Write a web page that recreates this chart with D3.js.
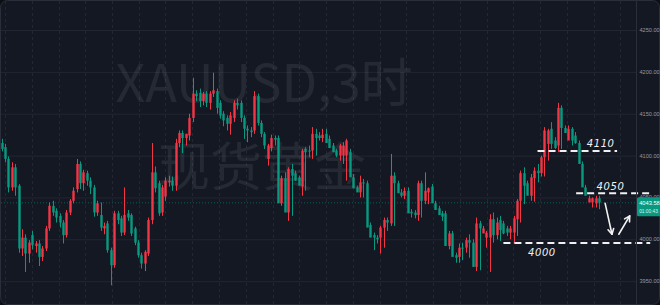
<!DOCTYPE html>
<html>
<head>
<meta charset="utf-8">
<script src="https://cdn.jsdelivr.net/npm/d3@7"></script>
<style>
  html, body { margin: 0; padding: 0; background: #0d0f15; }
  svg { display: block; }
</style>
</head>
<body>
<svg width="660" height="305"></svg>
<script>
// свечи XAUUSD, 3ч
const opens = [4115,4110,4096,4062,4086,4064,3989,4002,3983,4005,3992,3995,3979,3989,4013,4040,4034,4028,4020,4005,
  4032,4046,4060,4090,4067,4079,4070,4062,4032,4029,4013,4019,3987,3969,4031,4025,4008,4031,4029,4013,
  3996,3981,3971,3983,4023,4080,4067,4032,4051,4068,4070,4064,4115,4127,4121,4124,4145,4174,4175,4165,
  4174,4163,4174,4177,4163,4150,4145,4138,4145,4163,4163,4145,4132,4130,4130,4171,4139,4126,4096,4109,
  4121,4121,4043,4073,4032,4084,4079,4074,4063,4108,4106,4106,4126,4124,4121,4126,4120,4112,4106,4100,
  4100,4100,4104,4074,4062,4056,4068,4067,4017,4005,4002,4002,4014,4023,4019,4076,4067,4056,4052,4058,
  4033,4032,4029,4067,4046,4056,4063,4043,4037,4031,4031,3992,4007,3981,3979,3990,3990,3999,3996,3967,
  4019,4007,4002,4002,4024,4005,4023,4019,4013,4008,4008,4024,4046,4079,4067,4052,4073,4082,4079,4098,
  4114,4132,4118,4112,4157,4133,4118,4132,4124,4115,4090,4062,4044,4044,4043,4049];
const highs = [4120,4114,4099,4092,4090,4066,4012,4006,3999,4010,3998,3999,3992,4016,4044,4046,4037,4031,4023,4035,
  4048,4062,4096,4093,4083,4082,4074,4065,4046,4044,4020,4022,3990,4034,4034,4028,4062,4035,4031,4015,
  3999,3984,3987,4026,4115,4087,4070,4065,4074,4076,4075,4120,4130,4130,4126,4150,4193,4178,4180,4176,
  4177,4177,4199,4180,4166,4153,4148,4152,4166,4168,4166,4148,4136,4134,4177,4174,4142,4128,4114,4125,
  4124,4124,4076,4080,4086,4090,4082,4076,4108,4110,4112,4134,4132,4128,4132,4132,4124,4115,4108,4114,
  4116,4120,4108,4078,4064,4076,4072,4070,4020,4008,4005,4016,4026,4026,4102,4080,4070,4060,4062,4062,
  4036,4035,4070,4070,4080,4062,4066,4046,4040,4034,4034,4010,4010,3984,3995,3996,4002,4006,4000,4026,
  4022,4016,4010,4030,4032,4026,4028,4022,4016,4016,4028,4048,4082,4086,4070,4078,4086,4090,4100,4134,
  4132,4140,4122,4163,4160,4136,4136,4134,4128,4118,4093,4065,4052,4050,4052,4052];
const lows = [4105,4092,4056,4058,4052,3984,3980,3961,3972,3988,3984,3968,3974,3986,4010,4028,4020,4014,3995,4002,
  4029,4043,4056,4060,4058,4064,4054,4027,4028,4010,4006,3984,3945,3966,4018,4004,4005,4022,4004,3993,
  3978,3965,3962,3980,4018,4056,4028,4028,4046,4063,4058,4058,4110,4103,4112,4118,4140,4165,4158,4160,
  4158,4155,4170,4150,4144,4135,4130,4125,4140,4155,4140,4120,4116,4122,4126,4136,4122,4108,4088,4105,
  4112,4112,4040,4038,4022,4028,4070,4065,4052,4058,4098,4096,4100,4118,4116,4116,4112,4105,4098,4094,
  4090,4070,4096,4070,4058,4050,4050,4060,4010,3987,3995,3983,3990,4010,4016,4016,4062,4050,4048,4048,
  4026,4025,4022,4026,4042,4042,4050,4038,4030,4022,4020,3988,3985,3972,3972,3975,3984,3978,3994,3962,
  3963,4008,3990,3961,3996,4000,3998,4006,4004,4000,3995,4004,4020,4042,4060,4046,4045,4068,4075,4075,
  4094,4108,4108,4104,4108,4128,4120,4112,4114,4110,4088,4058,4048,4038,4038,4036,4040];
const closes = [4108,4096,4062,4086,4062,3989,4002,3983,3996,3993,3995,3979,3989,4013,4040,4032,4026,4020,4005,4032,
  4046,4058,4090,4067,4080,4070,4062,4032,4043,4014,4016,3987,3969,4031,4023,4008,4029,4026,4007,3996,
  3981,3971,3985,4023,4080,4061,4031,4062,4070,4070,4064,4115,4127,4121,4126,4145,4174,4171,4165,4174,
  4163,4174,4178,4157,4148,4142,4138,4148,4163,4160,4145,4132,4130,4128,4171,4139,4126,4112,4112,4121,
  4119,4043,4073,4032,4084,4076,4070,4064,4106,4104,4105,4126,4121,4121,4125,4115,4109,4104,4100,4112,
  4112,4118,4074,4061,4056,4068,4067,4014,4002,4002,4000,4014,4023,4020,4076,4067,4055,4052,4058,4031,
  4031,4029,4067,4046,4058,4061,4043,4035,4029,4027,3992,4007,3979,3978,3990,3989,3999,3996,3967,4019,
  4013,4013,4008,4024,4005,4020,4011,4007,4008,4013,4025,4046,4079,4064,4052,4074,4082,4079,4098,4130,
  4130,4114,4109,4157,4133,4127,4132,4118,4115,4090,4062,4052,4049,4049,4049,4044];

// шкала цен справа
const priceTicks = [4250, 4200, 4150, 4100, 4050, 4000, 3950];
const lastPrice = 4043.58;
const countdown = "01:00:43";

// разметка от руки: уровни и стрелки
const levelPrices = [4105.5, 4055, 3995.5];
const levelLabels = ["4110", "4050", "4000"];
const levelFrom = [157, 168.3, 147];
const levelTo = [180.3, 190.5, 190];
const labelAt = [171.4, 174.3, 154.2];
const labelShift = [-4, -3, 13];
// стрелки: [индекс0, цена0, индекс1, цена1]
const arrowsIdx = [[176.8, 4043, 178.8, 4006], [180.8, 4006, 184, 4028]];

const svg = d3.select("svg");
const W = 660, H = 305;
const plotRight = 636;

const n = closes.length;
const x = d3.scaleLinear().domain([0, n - 1]).range([1.5, 599]);
const y = d3.scaleLinear().domain([4000, 4250]).range([239.3, 30]);

const UP = "#f23645", DOWN = "#089981";

// фон с закруглёнными углами
svg.append("rect")
  .attr("x", 0.5).attr("y", 0.5).attr("width", W - 1).attr("height", H - 1)
  .attr("rx", 7).attr("fill", "#141823").attr("stroke", "#2a2e3a");

svg.append("clipPath").attr("id", "plot")
  .append("rect").attr("x", 1).attr("y", 1).attr("width", plotRight - 1).attr("height", H - 2);

// горизонтальная сетка
svg.append("g").selectAll("line").data(priceTicks).join("line")
  .attr("x1", 1).attr("x2", plotRight)
  .attr("y1", d => y(d) + 0.5).attr("y2", d => y(d) + 0.5)
  .attr("stroke", "#222632").attr("stroke-width", 1);

// вертикальная сетка пунктиром (раз в сутки)
const gx = d3.scaleLinear().domain([0, 22]).range([5, 593.5]);
svg.append("g").selectAll("line").data(d3.range(0, 24)).join("line")
  .attr("x1", d => Math.round(gx(d)) + 0.5).attr("x2", d => Math.round(gx(d)) + 0.5)
  .attr("y1", 1).attr("y2", H - 1)
  .attr("stroke", "#232735").attr("stroke-dasharray", "3,3")
  .style("display", d => gx(d) > plotRight ? "none" : null);

// водяной знак
const wm = svg.append("g").attr("fill", "#ffffff").attr("fill-opacity", 0.075)
  .attr("font-family", "'Noto Sans CJK SC', 'Noto Sans', sans-serif")
  .attr("text-anchor", "middle");
wm.append("text").attr("x", 264).attr("y", 102).attr("font-size", 52).text("XAUUSD,3时");
wm.append("text").attr("x", 262).attr("y", 186).attr("font-size", 52).text("现货黄金");

// линия текущей цены
svg.append("line")
  .attr("x1", 1).attr("x2", plotRight)
  .attr("y1", y(lastPrice)).attr("y2", y(lastPrice))
  .attr("stroke", DOWN).attr("stroke-opacity", 0.55).attr("stroke-dasharray", "1,2");

// свечи
const idx = d3.range(n);
const candles = svg.append("g").attr("clip-path", "url(#plot)");
const colorOf = i => closes[i] >= opens[i] ? UP : DOWN;

candles.selectAll("line.wick").data(idx).join("line")
  .attr("class", "wick")
  .attr("x1", i => Math.round(x(i)) + 0.5).attr("x2", i => Math.round(x(i)) + 0.5)
  .attr("y1", i => y(highs[i])).attr("y2", i => y(lows[i]))
  .attr("stroke", colorOf).attr("stroke-width", 1);

candles.selectAll("rect.body").data(idx).join("rect")
  .attr("class", "body")
  .attr("x", i => Math.round(x(i)) - 0.7)
  .attr("width", 2.4)
  .attr("y", i => y(Math.max(opens[i], closes[i])))
  .attr("height", i => Math.max(1, Math.abs(y(opens[i]) - y(closes[i]))))
  .attr("fill", colorOf);

// уровни
const lv = svg.append("g");
lv.selectAll("line").data(levelPrices).join("line")
  .attr("x1", (d, i) => x(levelFrom[i])).attr("x2", (d, i) => x(levelTo[i]))
  .attr("y1", d => y(d)).attr("y2", d => y(d))
  .attr("stroke", "#f0f0f0").attr("stroke-width", 2).attr("stroke-dasharray", "7,4");
lv.selectAll("text").data(levelLabels).join("text")
  .attr("x", (d, i) => x(labelAt[i]))
  .attr("y", (d, i) => y(levelPrices[i]) + labelShift[i])
  .attr("fill", "#f2f2f2").attr("font-size", 10).attr("font-style", "italic")
  .attr("letter-spacing", 0.6)
  .attr("font-family", "'DejaVu Sans', sans-serif")
  .text(d => d);

// стрелки
const ar = svg.append("g").attr("stroke", "#f2f2f2").attr("stroke-width", 1.6)
  .attr("fill", "none").attr("stroke-linecap", "round").attr("stroke-linejoin", "round");
arrowsIdx.forEach(a => {
  const x0 = x(a[0]), y0 = y(a[1]), x1 = x(a[2]), y1 = y(a[3]);
  const ang = Math.atan2(y1 - y0, x1 - x0);
  const L = 6, s = 0.5;
  ar.append("line").attr("x1", x0).attr("y1", y0).attr("x2", x1).attr("y2", y1);
  ar.append("path").attr("d",
    `M${x1 - L * Math.cos(ang - s)},${y1 - L * Math.sin(ang - s)}L${x1},${y1}L${x1 - L * Math.cos(ang + s)},${y1 - L * Math.sin(ang + s)}`);
});

// ось цен
svg.append("line").attr("x1", plotRight + 0.5).attr("x2", plotRight + 0.5)
  .attr("y1", 1).attr("y2", H - 1).attr("stroke", "#2a2e39");
svg.append("g").selectAll("text").data(priceTicks).join("text")
  .attr("x", 639.5).attr("y", d => y(d) + 2)
  .attr("fill", "#9598a1").attr("font-size", 5.6)
  .attr("font-family", "'Liberation Sans', Arial, sans-serif")
  .text(d => d3.format(".2f")(d));

// плашка текущей цены
svg.append("rect").attr("x", 637).attr("y", y(lastPrice) - 5.5)
  .attr("width", 26).attr("height", 19).attr("rx", 1.5).attr("fill", DOWN);
svg.append("text").attr("x", 639.2).attr("y", y(lastPrice) + 2.2)
  .attr("fill", "#ffffff").attr("font-size", 5.7)
  .attr("font-family", "'Liberation Sans', Arial, sans-serif")
  .text(d3.format(".2f")(lastPrice));
svg.append("text").attr("x", 639.2).attr("y", y(lastPrice) + 10)
  .attr("fill", "#dff3ef").attr("font-size", 4.8)
  .attr("font-family", "'Liberation Sans', Arial, sans-serif")
  .text(countdown);
</script>
</body>
</html>
